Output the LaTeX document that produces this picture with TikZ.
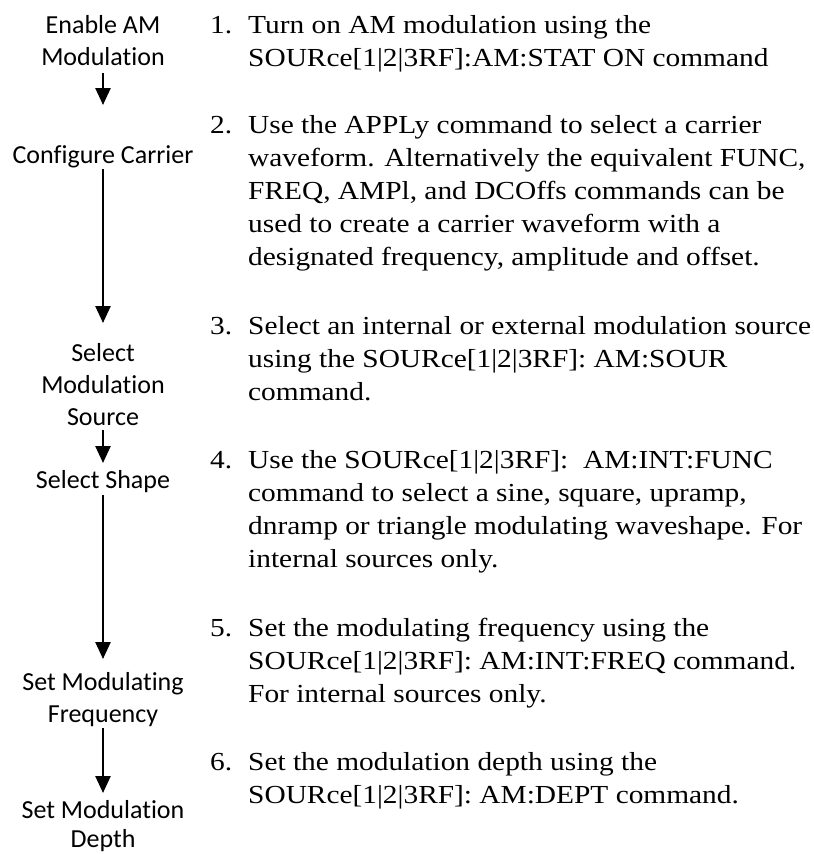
\documentclass[tikz,border=0pt]{standalone}
\usepackage{fontspec}
\setmainfont[FakeStretch=1.13]{Liberation Serif}
\newfontfamily\lblfont[Ligatures=NoCommon]{Carlito}
\usetikzlibrary{arrows.meta}
\tikzset{
  lbl/.style={anchor=north, align=center, inner sep=0pt,
    font=\lblfont\fontsize{26bp}{32bp}\selectfont},
  itemtxt/.style={anchor=north west, align=left, inner sep=0pt,
    font=\fontsize{26bp}{33bp}\selectfont},
  itemnum/.style={anchor=base west, inner sep=0pt,
    font=\fontsize{26bp}{33bp}\selectfont},
  flow/.style={line width=2.5bp, -{Triangle[width=15bp,length=17bp]}}
}
\begin{document}
\begin{tikzpicture}[x=1bp,y=-1bp]
\useasboundingbox (0,0) rectangle (814,854);
% left labels (top = baseline - 22.4)
\node[lbl] (l1) at (103,10.6) {\strut Enable AM\\Modulation};
\node[lbl] (l2) at (103,140.6) {\strut Configure Carrier};
\node[lbl] (l3) at (103,338.6) {\strut Select\\Modulation\\Source};
\node[lbl] (l4) at (103,465.6) {\strut Select Shape};
\node[lbl] (l5) at (103,667.6) {\strut Set Modulating\\Frequency};
\node[lbl, font=\lblfont\fontsize{26bp}{29bp}\selectfont] (l6) at (103,797.7) {\strut Set Modulation\\Depth};
% arrow end points
\coordinate (a1s) at (103,73);  \coordinate (a1e) at (103,105);
\coordinate (a2s) at (103,169); \coordinate (a2e) at (103,323);
\coordinate (a3s) at (103,430); \coordinate (a3e) at (103,463);
\coordinate (a4s) at (103,495); \coordinate (a4e) at (103,659);
\coordinate (a5s) at (103,728); \coordinate (a5e) at (103,793);
\draw[flow] (a1s) -- (a1e);
\draw[flow] (a2s) -- (a2e);
\draw[flow] (a3s) -- (a3e);
\draw[flow] (a4s) -- (a4e);
\draw[flow] (a5s) -- (a5e);
% numbers
\node[itemnum] (n1) at (210,33) {1.};
\node[itemnum] (n2) at (210,133) {2.};
\node[itemnum] (n3) at (210,334) {3.};
\node[itemnum] (n4) at (210,468) {4.};
\node[itemnum] (n5) at (210,636) {5.};
\node[itemnum] (n6) at (210,770) {6.};
% item texts (top = baseline - 23.1)
\node[itemtxt] (t1) at (248,9.9) {\strut Turn on AM modulation using the\\SOURce[1|2|3RF]:AM:STAT ON command};
\node[itemtxt] (t2) at (248,109.9) {\strut Use the APPLy command to select a carrier\\waveform. Alternatively the equivalent FUNC,\\FREQ, AMPl, and DCOffs commands can be\\used to create a carrier waveform with a\\designated frequency, amplitude and offset.};
\node[itemtxt] (t3) at (248,310.9) {\strut Select an internal or external modulation source\\using the SOURce[1|2|3RF]: AM:SOUR\\command.};
\node[itemtxt] (t4) at (248,444.9) {\strut Use the SOURce[1|2|3RF]:~ AM:INT:FUNC\\command to select a sine, square, upramp,\\dnramp or triangle modulating waveshape. For\\internal sources only.};
\node[itemtxt] (t5) at (248,612.9) {\strut Set the modulating frequency using the\\SOURce[1|2|3RF]: AM:INT:FREQ command.\\For internal sources only.};
\node[itemtxt] (t6) at (248,746.9) {\strut Set the modulation depth using the\\SOURce[1|2|3RF]: AM:DEPT command.};
\end{tikzpicture}
\end{document}
